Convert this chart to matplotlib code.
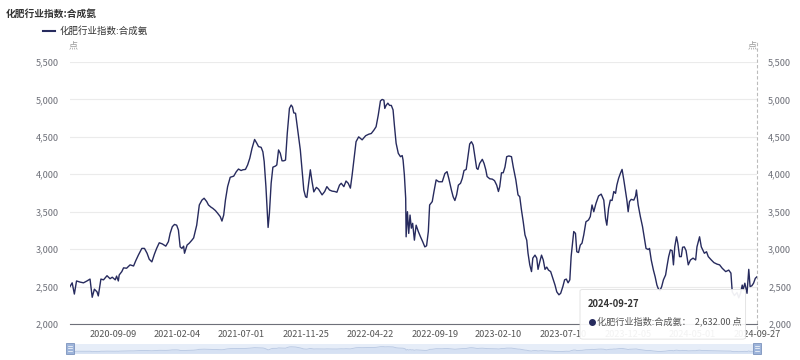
import pandas as pd
import matplotlib
matplotlib.use('Agg')
import matplotlib.pyplot as plt
from matplotlib.patches import FancyBboxPatch, Rectangle
from matplotlib.lines import Line2D

plt.rcParams['font.family'] = ['Noto Sans CJK SC', 'DejaVu Sans']

title = '化肥行业指数:合成氨'
unit = '点'

dates_2020 = ['2020-06-02', '2020-06-07', '2020-06-12', '2020-06-17', '2020-06-25', '2020-07-03',
              '2020-07-11', '2020-07-18', '2020-07-23', '2020-07-28', '2020-08-03', '2020-08-06',
              '2020-08-12', '2020-08-18', '2020-08-26', '2020-09-02', '2020-09-07', '2020-09-14',
              '2020-09-17', '2020-09-21', '2020-09-23', '2020-09-29', '2020-10-03', '2020-10-10',
              '2020-10-18', '2020-10-26', '2020-10-31', '2020-11-06', '2020-11-14', '2020-11-20',
              '2020-11-26', '2020-12-01', '2020-12-07', '2020-12-13', '2020-12-18', '2020-12-24',
              '2020-12-31']
vals_2020 = [2500, 2550, 2400, 2575, 2560, 2550, 2575, 2600, 2357, 2465, 2430, 2375,
             2600, 2590, 2645, 2605, 2625, 2590, 2640, 2575, 2655, 2700, 2750, 2745,
             2790, 2775, 2845, 2920, 3010, 3010, 2945, 2865, 2830, 2935, 3010, 3085,
             3070]

dates_2021 = ['2021-01-08', '2021-01-14', '2021-01-18', '2021-01-23', '2021-01-28', '2021-02-02',
              '2021-02-06', '2021-02-10', '2021-02-14', '2021-02-18', '2021-02-20', '2021-02-26',
              '2021-03-03', '2021-03-09', '2021-03-13', '2021-03-20', '2021-03-26', '2021-04-01',
              '2021-04-06', '2021-04-12', '2021-04-16', '2021-04-22', '2021-04-26', '2021-05-02',
              '2021-05-07', '2021-05-13', '2021-05-17', '2021-05-21', '2021-05-25', '2021-05-30',
              '2021-06-05', '2021-06-13', '2021-06-19', '2021-06-24', '2021-06-30', '2021-07-04',
              '2021-07-10', '2021-07-15', '2021-07-20', '2021-07-25', '2021-07-31', '2021-08-05',
              '2021-08-09', '2021-08-15', '2021-08-19', '2021-08-22', '2021-08-26', '2021-08-31',
              '2021-09-03', '2021-09-07', '2021-09-11', '2021-09-17', '2021-09-20', '2021-09-24',
              '2021-09-28', '2021-10-02', '2021-10-06', '2021-10-10', '2021-10-14', '2021-10-19',
              '2021-10-23', '2021-10-26', '2021-10-29', '2021-11-02', '2021-11-05', '2021-11-09',
              '2021-11-13', '2021-11-17', '2021-11-21', '2021-11-25', '2021-11-28', '2021-12-02',
              '2021-12-06', '2021-12-10', '2021-12-14', '2021-12-20', '2021-12-25']
vals_2021 = [3040, 3100, 3210, 3300, 3330, 3320, 3255, 3030, 3010, 3040, 2945, 3055,
             3080, 3120, 3150, 3320, 3590, 3655, 3680, 3635, 3590, 3560, 3545, 3515,
             3480, 3435, 3375, 3455, 3655, 3835, 3960, 3975, 4035, 4070, 4050, 4060,
             4065, 4125, 4215, 4345, 4465, 4415, 4370, 4360, 4300, 4170, 3835, 3290,
             3480, 3880, 4095, 4110, 4125, 4325, 4280, 4180, 4180, 4190, 4545, 4880,
             4925, 4900, 4820, 4815, 4680, 4500, 4325, 4060, 3790, 3700, 3690, 3880,
             4060, 3900, 3765, 3825, 3800]

dates_2022 = ['2022-01-02', '2022-01-08', '2022-01-13', '2022-01-19', '2022-01-25', '2022-01-31',
              '2022-02-05', '2022-02-11', '2022-02-15', '2022-02-21', '2022-02-26', '2022-03-03',
              '2022-03-08', '2022-03-12', '2022-03-16', '2022-03-21', '2022-03-27', '2022-04-04',
              '2022-04-12', '2022-04-19', '2022-04-25', '2022-05-01', '2022-05-06', '2022-05-11',
              '2022-05-16', '2022-05-20', '2022-05-24', '2022-05-26', '2022-05-29', '2022-06-02',
              '2022-06-06', '2022-06-10', '2022-06-14', '2022-06-17', '2022-06-21', '2022-06-26',
              '2022-07-01', '2022-07-05', '2022-07-07', '2022-07-10', '2022-07-13', '2022-07-14',
              '2022-07-17', '2022-07-20', '2022-07-23', '2022-07-26', '2022-07-29', '2022-08-02',
              '2022-08-06', '2022-08-11', '2022-08-16', '2022-08-21', '2022-08-26', '2022-08-30',
              '2022-09-03', '2022-09-06', '2022-09-12', '2022-09-16', '2022-09-21', '2022-09-27',
              '2022-10-05', '2022-10-11', '2022-10-16', '2022-10-20', '2022-10-26', '2022-10-30',
              '2022-11-03', '2022-11-07', '2022-11-11', '2022-11-16', '2022-11-20', '2022-11-24',
              '2022-11-29', '2022-12-03', '2022-12-07', '2022-12-11', '2022-12-15', '2022-12-19',
              '2022-12-23', '2022-12-26', '2022-12-30']
vals_2022 = [3725, 3770, 3835, 3790, 3775, 3770, 3760, 3855, 3880, 3835, 3910, 3880,
             3815, 3990, 4190, 4435, 4500, 4460, 4515, 4535, 4545, 4590, 4635, 4790,
             4980, 5000, 4990, 4880, 4920, 4950, 4920, 4920, 4860, 4660, 4415, 4280,
             4235, 4250, 4190, 3990, 3680, 3165, 3500, 3210, 3455, 3280, 3345, 3120,
             3320, 3235, 3165, 3100, 3030, 3045, 3235, 3590, 3635, 3770, 3925, 3900,
             3900, 4010, 4035, 3945, 3790, 3700, 3650, 3725, 3855, 3880, 3945, 4050,
             4065, 4235, 4405, 4435, 4390, 4235, 4080, 4065, 4145]

dates_2023 = ['2023-01-05', '2023-01-09', '2023-01-13', '2023-01-16', '2023-01-22', '2023-01-28',
              '2023-02-02', '2023-02-07', '2023-02-11', '2023-02-14', '2023-02-18', '2023-02-22',
              '2023-02-26', '2023-03-02', '2023-03-07', '2023-03-13', '2023-03-17', '2023-03-23',
              '2023-03-28', '2023-04-01', '2023-04-05', '2023-04-09', '2023-04-13', '2023-04-17',
              '2023-04-20', '2023-04-24', '2023-04-28', '2023-05-01', '2023-05-06', '2023-05-10',
              '2023-05-13', '2023-05-17', '2023-05-21', '2023-05-25', '2023-05-29', '2023-06-02',
              '2023-06-06', '2023-06-11', '2023-06-16', '2023-06-21', '2023-06-25', '2023-06-30',
              '2023-07-04', '2023-07-09', '2023-07-13', '2023-07-17', '2023-07-21', '2023-07-25',
              '2023-07-28', '2023-08-03', '2023-08-07', '2023-08-10', '2023-08-14', '2023-08-18',
              '2023-08-22', '2023-08-26', '2023-08-31', '2023-09-06', '2023-09-10', '2023-09-14',
              '2023-09-18', '2023-09-23', '2023-09-29', '2023-10-05', '2023-10-11', '2023-10-15',
              '2023-10-18', '2023-10-22', '2023-10-26', '2023-10-30', '2023-11-03', '2023-11-07',
              '2023-11-10', '2023-11-14', '2023-11-18', '2023-11-22', '2023-11-26', '2023-11-30',
              '2023-12-03', '2023-12-06', '2023-12-09', '2023-12-13', '2023-12-19', '2023-12-23',
              '2023-12-25', '2023-12-29']
vals_2023 = [4200, 4145, 4060, 3970, 3940, 3935, 3915, 3855, 3770, 3835, 4020, 4020,
             4095, 4235, 4245, 4235, 4100, 3925, 3725, 3700, 3520, 3365, 3190, 3120,
             2945, 2790, 2700, 2880, 2920, 2880, 2730, 2830, 2920, 2855, 2730, 2760,
             2720, 2700, 2610, 2520, 2430, 2390, 2410, 2500, 2590, 2600, 2550, 2590,
             2900, 3235, 3210, 2965, 2955, 3055, 3080, 3190, 3365, 3390, 3435, 3590,
             3500, 3610, 3710, 3735, 3655, 3410, 3320, 3545, 3655, 3650, 3770, 3745,
             3855, 3945, 4010, 4065, 3925, 3770, 3655, 3500, 3635, 3665, 3655, 3710,
             3790, 3590]

dates_2024 = ['2024-01-03', '2024-01-08', '2024-01-13', '2024-01-16', '2024-01-21', '2024-01-24',
              '2024-01-28', '2024-02-02', '2024-02-06', '2024-02-10', '2024-02-13', '2024-02-17',
              '2024-02-21', '2024-02-25', '2024-03-01', '2024-03-04', '2024-03-08', '2024-03-12',
              '2024-03-16', '2024-03-19', '2024-03-22', '2024-03-26', '2024-03-29', '2024-04-02',
              '2024-04-06', '2024-04-09', '2024-04-13', '2024-04-17', '2024-04-22', '2024-04-27',
              '2024-05-03', '2024-05-09', '2024-05-12', '2024-05-18', '2024-05-22', '2024-05-29',
              '2024-06-03', '2024-06-07', '2024-06-14', '2024-06-20', '2024-06-27', '2024-07-03',
              '2024-07-09', '2024-07-17', '2024-07-24', '2024-07-29', '2024-08-01', '2024-08-06',
              '2024-08-12', '2024-08-16', '2024-08-20', '2024-08-24', '2024-08-26', '2024-08-30',
              '2024-09-04', '2024-09-08', '2024-09-11', '2024-09-15', '2024-09-19', '2024-09-23',
              '2024-09-27']
vals_2024 = [3435, 3300, 3120, 3010, 2995, 3010, 2855, 2720, 2630, 2520, 2475, 2445,
             2500, 2590, 2655, 2765, 2900, 2990, 2980, 2790, 3030, 3165, 3080, 2900,
             2900, 3025, 3030, 2980, 2790, 2855, 2880, 2855, 3030, 3165, 3030, 2945,
             2965, 2900, 2855, 2820, 2800, 2790, 2745, 2700, 2720, 2680, 2430, 2380,
             2420, 2350, 2410, 2520, 2455, 2545, 2410, 2730, 2500, 2510, 2545, 2610,
             2632]

tick_dates = ['2020-09-09', '2021-02-04', '2021-07-01', '2021-11-25', '2022-04-22',
              '2022-09-19', '2023-02-10', '2023-07-10', '2023-12-05', '2024-05-01', '2024-09-27']
y_ticks = [2000, 2500, 3000, 3500, 4000, 4500, 5000, 5500]

tip_date = '2024-09-27'
tip_value = 2632.00

dates = pd.to_datetime(dates_2020 + dates_2021 + dates_2022 + dates_2023 + dates_2024)
values = vals_2020 + vals_2021 + vals_2022 + vals_2023 + vals_2024

line_color = '#272b5e'
grid_color = '#ebebeb'
label_color = '#6e7079'

fig = plt.figure(figsize=(8, 3.6), dpi=100)
ax = fig.add_axes([0.0875, 0.1, 0.8588, 0.7278])

ax.plot(dates, values, color=line_color, lw=1.0, zorder=3)
ax.set_xlim(dates[0], dates[-1])
ax.set_ylim(2000, 5500)
ax.set_yticks(y_ticks)
ax.set_yticklabels([f'{v:,}' for v in y_ticks])
ax.grid(axis='y', color=grid_color, lw=0.8)
ax.set_axisbelow(True)
for s in ['left', 'right', 'top']:
    ax.spines[s].set_visible(False)
ax.spines['bottom'].set_color(label_color)
ax.spines['bottom'].set_linewidth(0.8)
ax.tick_params(axis='y', length=0, labelsize=6.6, labelcolor=label_color, pad=8,
               labelright=True)
ax.tick_params(axis='x', length=0, labelsize=6.6, labelcolor='#555555', pad=4)
ax.set_xticks(pd.to_datetime(tick_dates))
ax.set_xticklabels(tick_dates)

# hover pointer line
ax.axvline(dates[-1], ymin=-0.02, ymax=1.075, color='#bbbbbb', lw=0.8, ls=(0, (3, 2)),
           clip_on=False, zorder=2)

# title, legend, units
fig.text(0.007, 0.962, title, fontsize=7, fontweight='bold', color='#333333', va='center')
fig.add_artist(Line2D([0.054, 0.069], [0.913, 0.913], color=line_color, lw=1.5))
fig.text(0.074, 0.913, title, fontsize=6.8, color='#333333', va='center')
fig.text(0.0915, 0.872, unit, fontsize=6.5, color='#999999', va='center', ha='center')
fig.text(0.94, 0.872, unit, fontsize=6.5, color='#999999', va='center', ha='center')

# data zoom slider
sl = fig.add_axes([0.0875, 0.017, 0.8588, 0.028])
sl.fill_between(dates, values, 1500, color='#d6e1f3', lw=0)
sl.plot(dates, values, color='#b7c7e2', lw=0.6)
sl.set_xlim(dates[0], dates[-1])
sl.set_ylim(1200, 6500)
sl.set_facecolor('#e6edf8')
sl.set_xticks([])
sl.set_yticks([])
for s in sl.spines.values():
    s.set_visible(False)
for fx in [0.0875, 0.9463]:
    fig.add_artist(Rectangle((fx - 0.0045, 0.017), 0.009, 0.03, transform=fig.transFigure,
                             facecolor='#9db4da', edgecolor='#7c93bd', lw=0.6, zorder=3))
    for dy in [0.026, 0.032, 0.038]:
        fig.add_artist(Line2D([fx - 0.0025, fx + 0.0025], [dy, dy], color='white', lw=0.5,
                              zorder=4))

# tooltip
fig.add_artist(FancyBboxPatch((0.725, 0.058), 0.207, 0.138, boxstyle='round,pad=0,rounding_size=0.004',
                              transform=fig.transFigure, facecolor='white', edgecolor='#dddddd',
                              lw=0.6, alpha=0.93, zorder=5))
fig.text(0.735, 0.155, tip_date, fontsize=6.8, fontweight='bold', color='#333333',
         va='center', zorder=6)
fig.add_artist(Line2D([0.740], [0.106], marker='o', ms=4, color=line_color, zorder=6))
fig.text(0.746, 0.106, f'{title}：  {tip_value:,.2f} 点', fontsize=6.6, color='#555555',
         va='center', zorder=6)

fig.savefig('out.png', dpi=100)
